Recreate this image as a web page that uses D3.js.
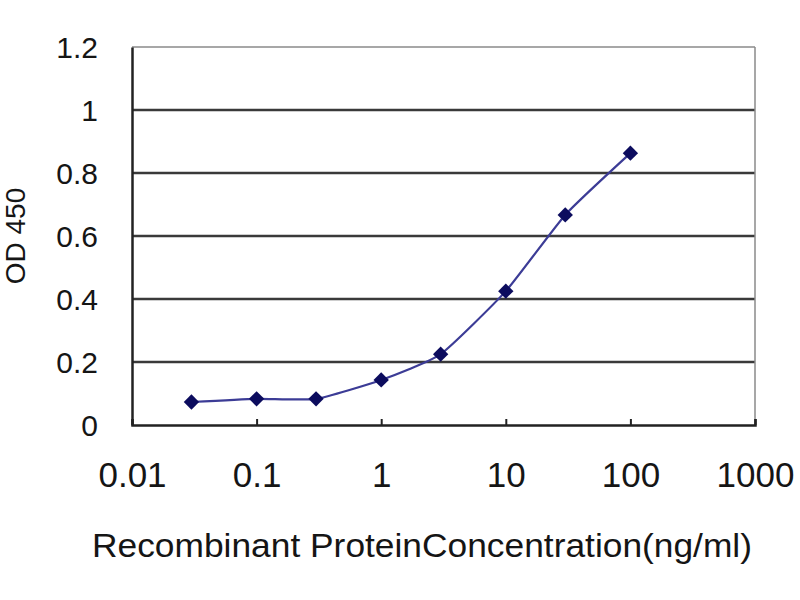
<!DOCTYPE html>
<html>
<head>
<meta charset="utf-8">
<script src="https://cdn.jsdelivr.net/npm/d3@7"></script>
<style>
  body { margin: 0; background: #fff; }
  text { font-family: "Liberation Sans", Arial, sans-serif; fill: #151515; }
</style>
</head>
<body>
<svg id="chart" width="800" height="600"></svg>
<script>
// ELISA STANDARD CURVE

// DATA
var concentrations = [0.03, 0.1, 0.3, 1, 3, 10, 30, 100];
var odValues = [0.073, 0.083, 0.083, 0.143, 0.225, 0.425, 0.667, 0.863];
var xTicks = [0.01, 0.1, 1, 10, 100, 1000];
var xTickLabels = ["0.01", "0.1", "1", "10", "100", "1000"];
var yTicks = [0, 0.2, 0.4, 0.6, 0.8, 1, 1.2];
var yTickLabels = ["0", "0.2", "0.4", "0.6", "0.8", "1", "1.2"];

// SIZING
var plotLeft = 132;
var plotRight = 755;
var plotTop = 47;
var plotBottom = 425;

var svg = d3.select("#chart");

var xScale = d3.scaleLog()
	.domain([0.01, 1000])
	.range([plotLeft, plotRight]);

var yScale = d3.scaleLinear()
	.domain([0, 1.2])
	.range([plotBottom, plotTop]);

// GRIDLINES
svg.append("g")
	.selectAll("line")
	.data(yTicks.filter(function(d) { return d > 0 && d < 1.2; }))
	.enter()
	.append("line")
	.attr("x1", plotLeft)
	.attr("x2", plotRight)
	.attr("y1", function(d) { return yScale(d); })
	.attr("y2", function(d) { return yScale(d); })
	.style("stroke", "#3a3a3a")
	.style("stroke-width", 2.5);

// FRAME (top + right lighter)
svg.append("line")
	.attr("x1", plotLeft).attr("x2", plotRight)
	.attr("y1", plotTop).attr("y2", plotTop)
	.style("stroke", "#8a8a8a").style("stroke-width", 1.5);
svg.append("line")
	.attr("x1", plotRight).attr("x2", plotRight)
	.attr("y1", plotTop).attr("y2", plotBottom)
	.style("stroke", "#8a8a8a").style("stroke-width", 1.5);

// AXES
var xAxis = d3.axisBottom(xScale)
	.tickValues(xTicks)
	.tickSize(-6)
	.tickFormat(function(d, i) { return xTickLabels[i]; });

var yAxis = d3.axisLeft(yScale)
	.tickValues(yTicks)
	.tickSize(0)
	.tickPadding(34)
	.tickFormat(function(d, i) { return yTickLabels[i]; });

var xg = svg.append("g")
	.attr("transform", "translate(0," + plotBottom + ")")
	.call(xAxis);
xg.select(".domain").style("stroke", "#222").style("stroke-width", 2.5);
xg.selectAll(".tick line").style("stroke", "#222").style("stroke-width", 2);
xg.selectAll(".tick text")
	.attr("y", 62)
	.attr("dy", 0)
	.style("font-size", "35px")
	.style("font-family", "Liberation Sans, Arial, sans-serif")
	.style("fill", "#151515");

var yg = svg.append("g")
	.attr("transform", "translate(" + plotLeft + ",0)")
	.call(yAxis);
yg.select(".domain").style("stroke", "#222").style("stroke-width", 2.5);
yg.selectAll(".tick text")
	.attr("dy", "0.36em")
	.style("font-size", "30px")
	.style("font-family", "Liberation Sans, Arial, sans-serif")
	.style("fill", "#151515");

// CURVE
var points = concentrations.map(function(c, i) { return {x: c, y: odValues[i]}; });

var line = d3.line()
	.x(function(d) { return xScale(d.x); })
	.y(function(d) { return yScale(d.y); })
	.curve(d3.curveCardinal.tension(0.5));

svg.append("path")
	.datum(points)
	.attr("d", line)
	.style("fill", "none")
	.style("stroke", "#3c3c96")
	.style("stroke-width", 2.2);

svg.append("g")
	.selectAll("path")
	.data(points)
	.enter()
	.append("path")
	.attr("d", d3.symbol().type(d3.symbolDiamond2).size(150))
	.attr("transform", function(d) { return "translate(" + xScale(d.x) + "," + yScale(d.y) + ")"; })
	.style("fill", "#0c0c5e");

// TITLES
svg.append("text")
	.text("Recombinant ProteinConcentration(ng/ml)")
	.attr("x", 92)
	.attr("y", 557)
	.attr("textLength", 660)
	.attr("lengthAdjust", "spacingAndGlyphs")
	.style("font-size", "33px");

svg.append("text")
	.text("OD 450")
	.attr("text-anchor", "middle")
	.attr("transform", "translate(25,236) rotate(-90)")
	.style("font-size", "28px");
</script>
</body>
</html>
